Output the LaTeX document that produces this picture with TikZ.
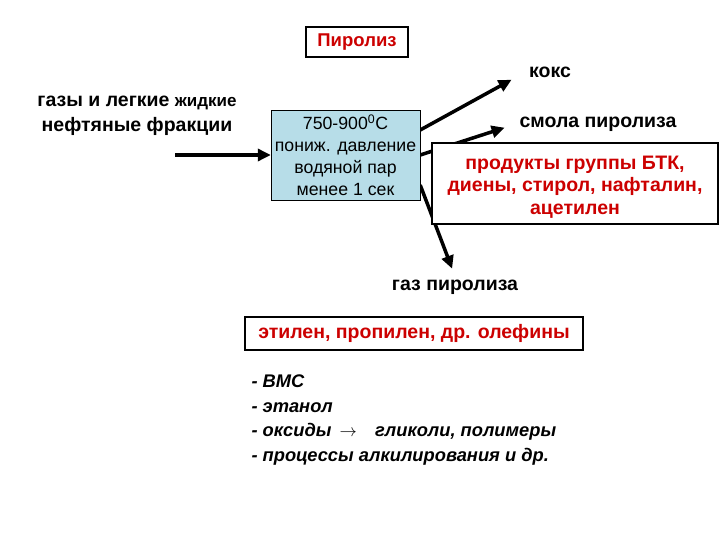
\documentclass[tikz,border=0pt]{standalone}
\usepackage{fontspec}
\setmainfont{Liberation Sans}
\usetikzlibrary{arrows.meta,positioning,calc,backgrounds}
\definecolor{pyrored}{RGB}{204,0,0}
\definecolor{procblue}{RGB}{183,221,232}
\tikzset{
  redbox/.style={draw, line width=1.5pt, fill=white, align=center, text=pyrored,
    inner sep=0pt, font=\bfseries\fontsize{19.5}{22.5}\selectfont},
  plainlabel/.style={align=center, font=\bfseries\fontsize{19.5}{25}\selectfont},
  procbox/.style={draw, fill=procblue, align=center, inner sep=0pt,
    font=\fontsize{17.7}{22}\selectfont, minimum width=149pt, minimum height=90pt},
  flowarrow/.style={-{Triangle[length=13pt,width=12pt]}, line width=3.5pt}
}

\begin{document}
\begin{tikzpicture}[x=1pt, y=-1pt]
    \useasboundingbox (0,0) rectangle (720,540);
    \node[redbox, font=\bfseries\fontsize{18.5}{22}\selectfont, minimum width=102pt, minimum height=30pt] (title) at (357,42) {Пиролиз};
    \node[plainlabel] (feed) at (137,116) {газы и легкие {\fontsize{17}{25}\selectfont жидкие}\\нефтяные фракции};
    \node[procbox] (proc) at (345.5,155) {750-900\textsuperscript{0}C\\пониж. давление\\водяной пар\\менее 1 сек};
    \node[plainlabel] (koks) at (550,72) {кокс};
    \node[plainlabel] (smola) at (598,124) {смола пиролиза};
    \node[redbox, minimum width=286pt, minimum height=81pt] (btk) at (575,183.5)
      {\rule{0pt}{20pt}продукты группы БТК,\\диены, стирол, нафталин,\\ацетилен};
    \node[plainlabel] (gas) at (455,287) {газ пиролиза};
    \node[redbox, minimum width=338pt, minimum height=33pt] (olef) at (414,333.5)
      {этилен, пропилен, др. олефины};
    \node[anchor=west, align=left, font=\bfseries\itshape\fontsize{18.3}{24.7}\selectfont] (uses) at (248,420)
      {- ВМС\\- этанол\\- оксиды \,$\rightarrow$\quad гликоли, полимеры\\- процессы алкилирования и др.};
    % arrows behind the boxes
    \begin{scope}[on background layer]
      \coordinate (feedstart) at (175,155);
      \draw[flowarrow] (feedstart) -- (proc.west);
      \draw[flowarrow, shorten >=16pt] ([yshift=25pt]proc.east) -- (koks.west);
      \draw[flowarrow, shorten >=12pt] (proc.east) -- (smola.west);
      \draw[flowarrow, shorten >=8pt] ([yshift=-30pt]proc.east) -- (gas.north);
    \end{scope}
  \end{tikzpicture}
\end{document}
